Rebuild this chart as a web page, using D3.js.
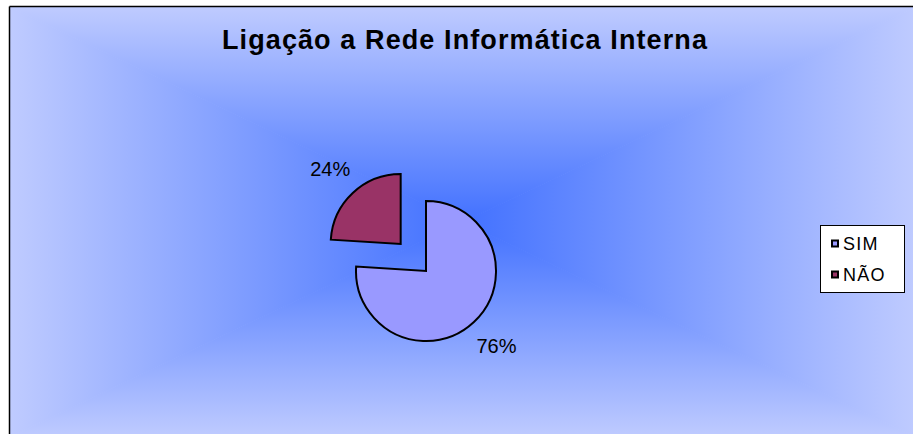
<!DOCTYPE html>
<html>
<head>
<meta charset="utf-8">
<script src="https://cdn.jsdelivr.net/npm/d3@7"></script>
<style>
  body { margin: 0; background: #ffffff; }
  svg { display: block; }
</style>
</head>
<body>
<div id="chart"></div>
<script>
var categories = ['SIM', 'NÃO'];
var values = [76, 24];
var sliceColors = ['#9999ff', '#993366'];
var titleText = 'Ligação a Rede Informática Interna';

var width = 913, height = 434;
var area = { x: 10, y: 7, w: 905, h: 430 };
var cx = area.x + area.w / 2, cy = area.y + area.h / 2;

var svg = d3.select('#chart').append('svg')
    .attr('width', width)
    .attr('height', height);

var defs = svg.append('defs');
var edgeColor = '#bfcbff', centerColor = '#4271ff';

// rectangular "from centre" gradient built from four triangles
var sides = [
    { id: 'gTop', pts: [[area.x, area.y], [area.x + area.w, area.y], [cx, cy]], from: [cx, area.y], to: [cx, cy] },
    { id: 'gBot', pts: [[area.x, area.y + area.h], [area.x + area.w, area.y + area.h], [cx, cy]], from: [cx, area.y + area.h], to: [cx, cy] },
    { id: 'gLeft', pts: [[area.x, area.y], [area.x, area.y + area.h], [cx, cy]], from: [area.x, cy], to: [cx, cy] },
    { id: 'gRight', pts: [[area.x + area.w, area.y], [area.x + area.w, area.y + area.h], [cx, cy]], from: [area.x + area.w, cy], to: [cx, cy] }
];

sides.forEach(function(s) {
    var g = defs.append('linearGradient')
        .attr('id', s.id)
        .attr('gradientUnits', 'userSpaceOnUse')
        .attr('x1', s.from[0]).attr('y1', s.from[1])
        .attr('x2', s.to[0]).attr('y2', s.to[1]);
    g.append('stop').attr('offset', 0).attr('stop-color', edgeColor);
    g.append('stop').attr('offset', 1).attr('stop-color', centerColor);
    svg.append('polygon')
        .attr('points', s.pts.map(function(p) { return p.join(','); }).join(' '))
        .attr('fill', 'url(#' + s.id + ')')
        .attr('stroke', 'url(#' + s.id + ')')
        .attr('stroke-width', 1);
});

// chart border (only top and left are inside the window)
svg.append('line')
    .attr('x1', area.x - 0.5).attr('y1', area.y - 0.5)
    .attr('x2', width).attr('y2', area.y - 0.5)
    .attr('stroke', '#000').attr('stroke-width', 1.5);
svg.append('line')
    .attr('x1', area.x - 0.5).attr('y1', area.y - 0.5)
    .attr('x2', area.x - 0.5).attr('y2', height)
    .attr('stroke', '#000').attr('stroke-width', 1.5);

svg.append('text')
    .attr('x', 465)
    .attr('y', 49)
    .attr('text-anchor', 'middle')
    .attr('font-family', 'Liberation Sans, Arial, sans-serif')
    .attr('font-weight', 'bold')
    .attr('font-size', '27px')
    .attr('letter-spacing', '1.1px')
    .text(titleText);

// pie
var radius = 70;
var explode = [0, 37];
var pieCx = 426, pieCy = 271;

var pie = d3.pie()
    .sort(null)
    .value(function(d) { return d; });

var arc = d3.arc()
    .innerRadius(0)
    .outerRadius(radius);

var labelArc = d3.arc()
    .innerRadius(103)
    .outerRadius(103);

var group = svg.append('g')
    .attr('transform', 'translate(' + pieCx + ',' + pieCy + ')');

var arcs = group.selectAll('.arc')
    .data(pie(values))
    .enter()
    .append('g')
    .attr('class', 'arc')
    .attr('transform', function(d, i) {
        var a = (d.startAngle + d.endAngle) / 2;
        return 'translate(' + (Math.sin(a) * explode[i]) + ',' + (-Math.cos(a) * explode[i]) + ')';
    });

arcs.append('path')
    .attr('d', arc)
    .attr('fill', function(d, i) { return sliceColors[i]; })
    .attr('stroke', '#000')
    .attr('stroke-width', 2)
    .attr('stroke-linejoin', 'miter');

var total = d3.sum(values);
arcs.append('text')
    .attr('transform', function(d) {
        return 'translate(' + labelArc.centroid(d) + ')';
    })
    .attr('text-anchor', 'middle')
    .attr('dy', '0.35em')
    .attr('font-family', 'Liberation Sans, Arial, sans-serif')
    .attr('font-size', '20px')
    .text(function(d) { return Math.round(d.data / total * 100) + '%'; });

// legend
var legend = svg.append('g');
legend.append('rect')
    .attr('x', 820.5).attr('y', 225.5)
    .attr('width', 84).attr('height', 67)
    .attr('fill', '#fff')
    .attr('stroke', '#000')
    .attr('stroke-width', 1);

var items = legend.selectAll('.item')
    .data(categories)
    .enter()
    .append('g')
    .attr('class', 'item')
    .attr('transform', function(d, i) { return 'translate(831,' + (243.5 + i * 31) + ')'; });

items.append('rect')
    .attr('x', 1).attr('y', -3)
    .attr('width', 6).attr('height', 6)
    .attr('fill', function(d, i) { return sliceColors[i]; })
    .attr('stroke', '#000')
    .attr('stroke-width', 2);

items.append('text')
    .attr('x', 12)
    .attr('dy', '0.36em')
    .attr('font-family', 'Liberation Sans, Arial, sans-serif')
    .attr('font-size', '18px')
    .attr('letter-spacing', '1.2px')
    .text(function(d) { return d; });
</script>
</body>
</html>
